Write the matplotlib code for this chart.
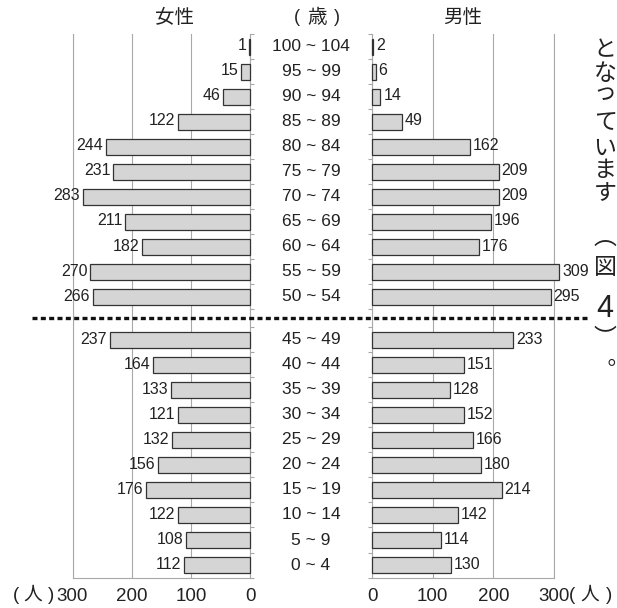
import matplotlib
matplotlib.use("Agg")
import matplotlib.pyplot as plt
from matplotlib.lines import Line2D
import matplotlib.transforms as mtransforms

plt.rcParams['font.family'] = ['Liberation Sans', 'Noto Sans CJK JP', 'DejaVu Sans']

# ---- data (from youngest to oldest) ----
age_groups = ["0 ~ 4", "5 ~ 9", "10 ~ 14", "15 ~ 19", "20 ~ 24", "25 ~ 29",
              "30 ~ 34", "35 ~ 39", "40 ~ 44", "45 ~ 49", "50 ~ 54", "55 ~ 59",
              "60 ~ 64", "65 ~ 69", "70 ~ 74", "75 ~ 79", "80 ~ 84", "85 ~ 89",
              "90 ~ 94", "95 ~ 99", "100 ~ 104"]
female = [112, 108, 122, 176, 156, 132, 121, 133, 164, 237, 266, 270,
          182, 211, 283, 231, 244, 122, 46, 15, 1]
male = [130, 114, 142, 214, 180, 166, 152, 128, 151, 233, 295, 309,
        176, 196, 209, 209, 162, 49, 14, 6, 2]
x_ticks = [0, 100, 200, 300]
x_ticklabels = ["0", "100", "200", "300"]
header_female = "女性"
header_male = "男性"
header_age = "歳"
unit = "人"
side_text = ["と", "な\nっ", "て", "い", "ま", "す", "︵", "図", "4", "︶", "︒"]

W, H = 617, 608
def fx(x):
    return x / W
def fy(y):
    return 1 - y / H

# layout: gap between 45-49 and 50-54
gap = 0.72
ypos = [i + (gap if i >= 10 else 0) for i in range(len(age_groups))]

fig = plt.figure(figsize=(W / 100, H / 100), dpi=100)
ax_bottom = fy(578)
ax_h = fy(34) - ax_bottom
axL = fig.add_axes([fx(72.5), ax_bottom, (250 - 72.5) / W, ax_h])
axR = fig.add_axes([fx(372), ax_bottom, (554 - 372) / W, ax_h])

bar_fill = '#d5d5d5'
bar_edge = '#333333'
grid_c = '#a8a8a8'
text_c = '#222222'
ylim = (-0.518, 21.17)

boundaries = sorted(set([round(y - 0.5, 3) for y in ypos] + [round(y + 0.5, 3) for y in ypos]))

for ax, vals, side in ((axL, female, 'L'), (axR, male, 'R')):
    bars = ax.barh(ypos, vals, height=0.64, color=bar_fill, edgecolor=bar_edge,
                   linewidth=0.9, zorder=3)
    for b in bars:
        b.set_clip_on(False)
    ax.set_ylim(*ylim)
    if side == 'L':
        ax.set_xlim(300, 0)
    else:
        ax.set_xlim(0, 300)
    ax.set_xticks(x_ticks)
    ax.set_xticklabels(x_ticklabels)
    ax.xaxis.grid(True, color=grid_c, linewidth=0.8, zorder=0)
    ax.set_axisbelow(True)
    ax.tick_params(axis='x', length=0, pad=7, labelsize=13.5, labelcolor=text_c)
    ax.set_yticks(boundaries)
    ax.set_yticklabels([])
    if side == 'L':
        ax.tick_params(axis='y', left=False, right=True, direction='out', length=3,
                       width=0.8, color=grid_c, labelleft=False)
    else:
        ax.tick_params(axis='y', left=True, right=False, direction='out', length=3,
                       width=0.8, color=grid_c, labelleft=False)
    ax.spines['top'].set_visible(False)
    for s in ('left', 'right', 'bottom'):
        ax.spines[s].set_color(grid_c)
        ax.spines[s].set_linewidth(0.8)
    for y, v in zip(ypos, vals):
        if side == 'L':
            ax.annotate(str(v), xy=(v, y), xytext=(-2, 0.5), textcoords='offset points',
                        ha='right', va='center', fontsize=11.5, color=text_c,
                        annotation_clip=False)
        else:
            ax.annotate(str(v), xy=(v, y), xytext=(2, 0.5), textcoords='offset points',
                        ha='left', va='center', fontsize=11.5, color=text_c,
                        annotation_clip=False)

# age labels in the middle
blend = mtransforms.blended_transform_factory(fig.transFigure, axR.transData)
for y, lab in zip(ypos, age_groups):
    fig.text(fx(311), y, lab, transform=blend, ha='center', va='center',
             fontsize=12.5, color=text_c)

# dotted separator between 45-49 and 50-54
ysep = (ypos[9] + ypos[10]) / 2
fig.add_artist(Line2D([fx(32), fx(588)], [ysep, ysep], transform=blend,
                      color='#111111', linewidth=2.4, linestyle=(0, (1.5, 1.0)),
                      dash_capstyle='butt'))

# headers
fig.text(fx(175), fy(18), header_female, ha='center', va='center', fontsize=14, color=text_c)
fig.text(fx(462.5), fy(18), header_male, ha='center', va='center', fontsize=14, color=text_c)
fig.text(fx(296.5), fy(18), "(", ha='center', va='center', fontsize=13, color=text_c)
fig.text(fx(317), fy(18), header_age, ha='center', va='center', fontsize=14, color=text_c)
fig.text(fx(336.5), fy(18), ")", ha='center', va='center', fontsize=13, color=text_c)

# unit labels at the bottom
yb = fy(595.5)
for xc, t in ((16.5, "("), (33, unit), (51.5, ")"), (572.5, "("), (590, unit), (609, ")")):
    fig.text(fx(xc), yb, t, ha='center', va='center', fontsize=13.5, color=text_c)

# vertical side text (partly clipped by the figure edge, as in the source page)
side_y = [50, 83, 123, 148, 171, 194, 237, 267, 309, 339, 370]
for ch, yc in zip(side_text, side_y):
    if ch == "︒":
        fig.text(fx(616), fy(yc), ch, ha='right', va='center', fontsize=16,
                 color=text_c, family=['Noto Sans CJK JP'])
    elif ch == "4":
        fig.text(fx(605), fy(yc), ch, ha='center', va='center', fontsize=22, color=text_c)
    elif "\n" in ch:
        fig.text(fx(605), fy(yc), ch, ha='center', va='center', fontsize=16.5,
                 linespacing=0.75, multialignment='center',
                 color=text_c, family=['Noto Sans CJK JP', 'DejaVu Sans'])
    else:
        fig.text(fx(605), fy(yc), ch, ha='center', va='center', fontsize=16.5,
                 color=text_c, family=['Noto Sans CJK JP', 'DejaVu Sans'])

fig.savefig("out.png", dpi=100)
